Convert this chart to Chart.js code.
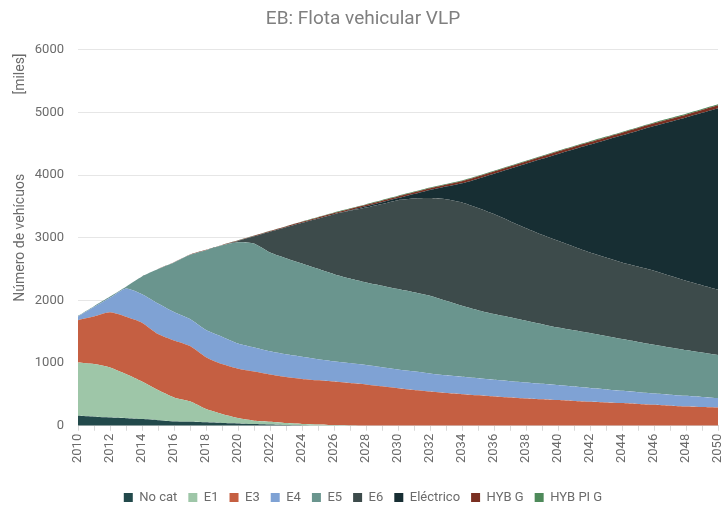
<!DOCTYPE html>
<html>
<head>
<meta charset="utf-8">
<title>EB: Flota vehicular VLP</title>
<script src="https://cdn.jsdelivr.net/npm/chart.js@4.4.1/dist/chart.umd.min.js"></script>
<style>
  html, body { margin: 0; padding: 0; background: #fff; }
  #wrap { width: 726px; height: 506px; }
</style>
</head>
<body>
<div id="wrap"><canvas id="chart" width="726" height="506"></canvas></div>
<script>
const years = [
  "2010", "2011", "2012", "2013", "2014", "2015", "2016", "2017", "2018", "2019",
  "2020", "2021", "2022", "2023", "2024", "2025", "2026", "2027", "2028", "2029",
  "2030", "2031", "2032", "2033", "2034", "2035", "2036", "2037", "2038", "2039",
  "2040", "2041", "2042", "2043", "2044", "2045", "2046", "2047", "2048", "2049", "2050",
];

// miles de vehículos, 2010..2050
const noCat = [160, 145, 133, 122, 107, 90, 70, 64, 55, 45, 38, 28, 20, 12, 6, 2,
  0, 0, 0, 0, 0, 0, 0, 0, 0, 0, 0, 0, 0, 0, 0, 0, 0, 0, 0, 0, 0, 0, 0, 0, 0];
const e1 = [850, 840, 797, 703, 598, 480, 382, 326, 211, 142, 85, 54, 45, 33, 24, 20,
  12, 5, 0, 0, 0, 0, 0, 0, 0, 0, 0, 0, 0, 0, 0, 0, 0, 0, 0, 0, 0, 0, 0, 0, 0];
const e3 = [676, 759, 880, 914, 940, 893, 908, 882, 829, 797, 787, 785, 755, 735, 718, 703,
  693, 677, 660, 630, 600, 572, 545, 522, 505, 486, 468, 452, 436, 423, 410, 396, 383, 372,
  362, 348, 335, 321, 308, 300, 292];
const e4 = [58, 150, 232, 452, 455, 489, 455, 430, 432, 436, 403, 383, 370, 360, 353, 338,
  325, 318, 310, 305, 300, 298, 290, 283, 277, 272, 266, 260, 255, 247, 239, 229, 218, 208,
  196, 189, 181, 176, 171, 160, 150];
const e5 = [10, 15, 20, 29, 283, 548, 791, 1027, 1276, 1460, 1617, 1660, 1576, 1535, 1489,
  1442, 1390, 1350, 1317, 1300, 1281, 1260, 1240, 1190, 1133, 1087, 1048, 1018, 985, 952,
  920, 899, 878, 851, 825, 801, 777, 753, 729, 708, 686];
const e6 = [0, 0, 0, 0, 0, 0, 0, 0, 0, 0, 20, 113, 331, 493, 649, 803, 957, 1080, 1195, 1305,
  1419, 1495, 1558, 1620, 1649, 1630, 1596, 1535, 1478, 1428, 1383, 1334, 1287, 1254, 1223,
  1202, 1180, 1143, 1106, 1074, 1042];
const electrico = [0, 0, 0, 0, 0, 0, 0, 0, 0, 0, 0, 0, 0, 0, 0, 0, 0, 10, 22, 28, 33, 73,
  129, 202, 306, 469, 645, 837, 1027, 1210, 1387, 1555, 1721, 1876, 2029, 2169, 2310, 2459,
  2607, 2753, 2899];
const hybG = [0, 0, 0, 0, 1, 2, 3, 4, 5, 6, 7, 9, 11, 13, 15, 17, 19, 21, 23, 25, 27, 28, 30,
  31, 32, 33, 34, 35, 36, 37, 38, 39, 40, 40, 41, 42, 43, 43, 44, 45, 45];
const hybPiG = [0, 0, 0, 0, 0, 0, 0, 0, 0, 0, 2, 3, 4, 5, 6, 7, 8, 9, 10, 10, 10, 11, 11, 12,
  13, 13, 13, 13, 13, 13, 13, 13, 13, 14, 14, 14, 14, 15, 15, 15, 16];

const seriesNames = ["No cat", "E1", "E3", "E4", "E5", "E6", "Eléctrico", "HYB G", "HYB PI G"];
const seriesData = [noCat, e1, e3, e4, e5, e6, electrico, hybG, hybPiG];
const seriesColors = ["#22494b", "#9ec6a8", "#c55f42", "#7fa2d4", "#6a958e", "#3d4b4b",
  "#172e33", "#7a2f21", "#4e8a5a"];

const FONT = "Roboto, 'Liberation Sans', sans-serif";
const GREY = "#6b6b6b";

// the little "[miles]" note above the axis title
const milesNote = {
  id: "milesNote",
  afterDraw(chart) {
    const ctx = chart.ctx;
    ctx.save();
    ctx.translate(20, 74);
    ctx.rotate(-Math.PI / 2);
    ctx.font = "14px " + FONT;
    ctx.fillStyle = GREY;
    ctx.textAlign = "center";
    ctx.textBaseline = "middle";
    ctx.fillText("[miles]", 0, 0);
    ctx.restore();
  },
};

const datasets = seriesNames.map((name, i) => ({
  label: name,
  data: seriesData[i],
  backgroundColor: seriesColors[i],
  borderColor: seriesColors[i],
  borderWidth: 0,
  pointRadius: 0,
  tension: 0.2,
  fill: i === 0 ? "origin" : "-1",
}));

new Chart(document.getElementById("chart"), {
  type: "line",
  data: { labels: years, datasets: datasets },
  options: {
    responsive: false,
    animation: false,
    layout: { padding: { left: 0, right: 0, top: 0, bottom: -8 } },
    plugins: {
      title: {
        display: true,
        text: "EB: Flota vehicular VLP",
        color: "#7f7f7f",
        font: { family: FONT, size: 19, weight: "normal" },
        padding: { top: 8, bottom: 19 },
      },
      legend: {
        position: "bottom",
        labels: {
          color: GREY,
          font: { family: FONT, size: 13 },
          boxWidth: 9,
          boxHeight: 9,
          padding: 11,
        },
      },
      tooltip: { enabled: false },
    },
    scales: {
      x: {
        grid: { drawOnChartArea: false, color: "#d9d9d9", tickLength: 5 },
        border: { color: "#d9d9d9" },
        ticks: {
          autoSkip: false,
          maxRotation: 90,
          minRotation: 90,
          color: GREY,
          font: { family: FONT, size: 13 },
          callback: function (v, i) { return i % 2 === 0 ? years[i] : ""; },
        },
        afterFit: function (scale) {
          scale.height += 14;
          scale.paddingRight = 8;
        },
      },
      y: {
        stacked: true,
        min: 0,
        max: 6000,
        ticks: {
          stepSize: 1000,
          color: GREY,
          font: { family: FONT, size: 13 },
          padding: 14,
          callback: function (v) { return String(v); },
        },
        grid: { color: "#e6e6e6", drawTicks: false },
        border: { display: false },
        title: {
          display: true,
          text: "Número de vehícuos",
          color: GREY,
          font: { family: FONT, size: 14 },
          padding: { top: 12, bottom: 4 },
        },
        afterFit: function (scale) { scale.width = 78; },
      },
    },
  },
  plugins: [milesNote],
});
</script>
</body>
</html>
